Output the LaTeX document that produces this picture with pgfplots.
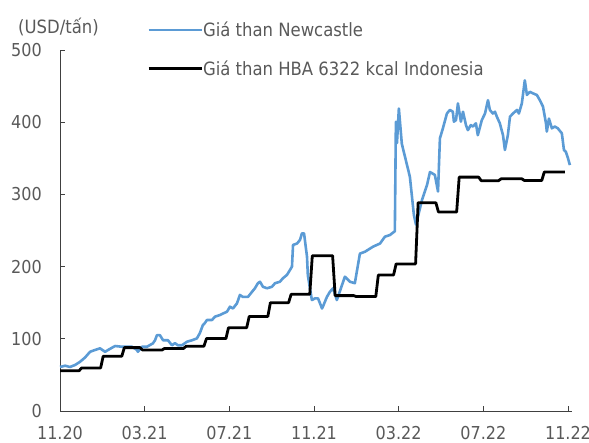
\documentclass[border=0pt]{standalone}
\usepackage{fontspec}
\setmainfont{DejaVu Sans Condensed}
\usepackage{pgfplots}
\pgfplotsset{compat=1.18}
\definecolor{ncblue}{HTML}{5B9BD5}
\definecolor{txtgray}{HTML}{595959}
\definecolor{axgray}{HTML}{404040}
\begin{document}
\fontsize{18.3bp}{22bp}\selectfont
\begin{tikzpicture}
\useasboundingbox (0,0) rectangle (589bp,443bp);
\begin{axis}[
  at={(60bp,32bp)}, anchor=south west,
  scale only axis, width=512bp, height=361bp,
  xmin=0, xmax=24.19, ymin=0, ymax=500,
  axis x line=bottom, axis y line=left,
  axis line style={-, axgray, line width=0.9bp},
  tick style={axgray, line width=0.9bp},
  tick align=inside, major tick length=5bp,
  xtick={0,4,8,12,16,20,24},
  xticklabels={11.20,03.21,07.21,11.21,03.22,07.22,11.22},
  ytick={0,100,200,300,400,500},
  /pgf/number format/assume math mode=true,
  ticklabel style={font=\fontsize{17.8bp}{21bp}\selectfont, text=txtgray},
  yticklabel style={inner sep=0pt, xshift=-18bp},
  xticklabel style={inner sep=0pt, yshift=-15bp},
  clip=false,
  legend style={draw=none, fill=none, inner sep=0pt, at={(0.170,1.0)}, anchor=west,
    font=\fontsize{18.3bp}{22bp}\selectfont, text=txtgray, row sep=21bp,
    nodes={inner sep=0pt},
    /tikz/every even column/.append style={column sep=3bp}},
  legend cell align=left,
  legend image code/.code={\draw[#1] (0bp,1bp) -- (53bp,1bp);},
]
\addplot[ncblue, line width=2.6bp, line join=round] coordinates {
(0,61)(0.24,62.7)(0.47,61)(0.71,63.7)(0.94,68)(1.18,74)(1.42,82)(1.65,84.5)(1.89,86.8)
(2.13,82)(2.27,84.5)(2.60,90)(2.93,89)(3.40,89)(3.64,84.5)(3.68,82)(3.87,89)(4.11,89)
(4.39,93.7)(4.49,98)(4.58,105)(4.72,105)(4.87,98)(5.10,98)(5.29,91)(5.43,94)(5.57,91)
(5.76,91)(6.00,96)(6.24,98)(6.47,100.6)(6.61,108)(6.75,119)(6.85,122)(6.94,126)
(7.18,126)(7.32,130.6)(7.56,133)(7.70,135)(7.89,137.5)(8.03,144.5)(8.17,142)(8.36,149)
(8.50,160.7)(8.64,158)(8.88,158)(9.07,165)(9.21,170)(9.35,177)(9.45,179)(9.59,172)
(9.78,170)(10.01,172)(10.16,177)(10.39,179)(10.53,183.8)(10.72,188.4)(10.86,195)
(10.96,200)(11.01,230)(11.20,232)(11.34,237)(11.43,246)(11.53,246)(11.67,213.7)
(11.71,188)(11.90,153.7)(12.05,156)(12.19,156)(12.38,142)(12.42,144.5)(12.61,158)
(12.75,165)(12.90,170)(13.08,153.7)(13.46,186)(13.70,179)(13.93,177)(14.17,218)
(14.41,220.6)(14.79,227.6)(15.12,232)(15.35,241.4)(15.59,243.8)(15.82,249)(15.87,400.7)
(15.92,371)(16.01,419)(16.15,370)(16.53,324.5)(16.72,271.5)(16.82,258)(16.91,269)
(17.10,292)(17.34,313)(17.48,331)(17.71,327)(17.86,304)(17.95,377.7)(18.09,391.5)
(18.28,412)(18.42,417)(18.56,414.5)(18.61,400.7)(18.71,403)(18.80,426)(18.94,400.7)
(19.04,414.5)(19.18,396)(19.27,389)(19.41,396)(19.51,394)(19.65,398.5)(19.74,382)
(19.93,403)(20.08,412)(20.22,430.5)(20.31,417)(20.45,412)(20.55,414.5)(20.64,407.6)
(20.78,398.5)(20.93,382)(21.02,361.5)(21.16,382)(21.26,407.6)(21.40,412)(21.59,417)
(21.68,412)(21.82,426)(21.96,458)(22.06,437.7)(22.20,442)(22.34,440)(22.53,437.7)
(22.67,430.5)(22.82,421.5)(22.96,398.5)(23.00,387)(23.10,405)(23.24,391.5)(23.38,394)
(23.52,391.5)(23.71,384.6)(23.81,361.5)(23.90,359)(24.00,350)(24.09,340.6)
};
\addlegendentry{Giá than Newcastle}
\addplot[black, line width=2.8bp, line join=round] coordinates {
(0,55.71)(0.90,55.71)(1.02,59.65)(1.92,59.65)(2.04,75.84)(2.92,75.84)(3.04,87.79)
(3.78,87.79)(3.90,84.47)(4.82,84.47)(4.94,86.68)(5.84,86.68)(5.96,89.74)(6.80,89.74)
(6.92,100.33)(7.84,100.33)(7.96,115.35)(8.82,115.35)(8.94,130.99)(9.82,130.99)
(9.94,150.03)(10.80,150.03)(10.92,161.63)(11.80,161.63)(11.92,215.01)(12.88,215.01)
(13.00,159.79)(13.88,159.79)(14.00,158.50)(14.92,158.50)(15.04,188.38)(15.76,188.38)
(15.88,203.69)(16.80,203.69)(16.92,288.40)(17.76,288.40)(17.88,275.64)(18.74,275.64)
(18.86,323.91)(19.78,323.91)(19.90,319.00)(20.72,319.00)(20.84,321.59)(21.82,321.59)
(21.94,319.22)(22.76,319.22)(22.88,330.97)(23.85,330.97)
};
\addlegendentry{Giá than HBA 6322 kcal Indonesia}
\end{axis}
\node[anchor=west, inner sep=0pt, text=txtgray] at (18bp,416bp) {(USD/tấn)};
\end{tikzpicture}
\end{document}
